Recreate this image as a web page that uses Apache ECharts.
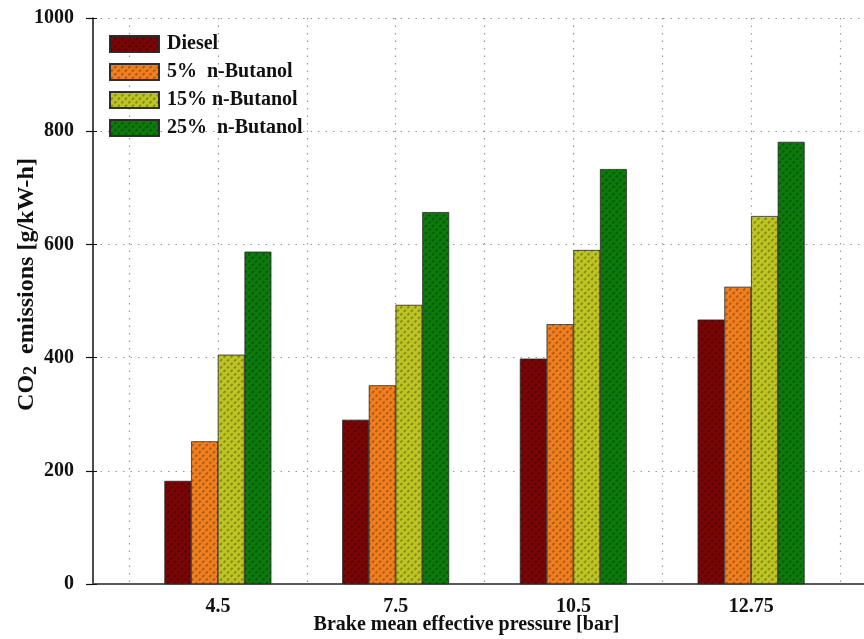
<!DOCTYPE html>
<html>
<head>
<meta charset="utf-8">
<script src="https://cdn.jsdelivr.net/npm/echarts@6/dist/echarts.min.js"></script>
<style>html,body{margin:0;padding:0;background:#fff}#c{width:864px;height:639px}</style>
</head>
<body>
<div id="c"></div>
<script>
var categories = ['4.5', '7.5', '10.5', '12.75'];
var seriesNames = ['Diesel', '5%  n-Butanol', '15% n-Butanol', '25%  n-Butanol'];
var diesel = [182, 290, 398, 467];
var butanol5 = [252, 351, 459, 525];
var butanol15 = [405, 493, 590, 650];
var butanol25 = [587, 657, 733, 781];
var yTicks = [0, 200, 400, 600, 800, 1000];

var colors = ['#7b0505', '#f27f1e', '#bec522', '#0c7b0c'];
var values = [diesel, butanol5, butanol15, butanol25];
var font = 'Liberation Serif';

var chart = echarts.init(document.getElementById('c'));
var series = values.map(function (v, i) {
  return {
    name: seriesNames[i],
    type: 'bar',
    xAxisIndex: 0,
    yAxisIndex: 2,
    data: v,
    barWidth: 26.7,
    barGap: '0%',
    itemStyle: {
      color: colors[i],
      borderColor: 'rgba(40,40,40,0.8)',
      borderWidth: 0.6,
      decal: {
        symbol: 'rect',
        symbolSize: 1,
        dashArrayX: [[3, 2]],
        dashArrayY: [1.5, 2.5],
        rotation: -Math.PI / 4,
        color: 'rgba(0,0,0,0.28)'
      }
    }
  };
});

chart.setOption({
  animation: false,
  backgroundColor: '#fff',
  legend: {
    orient: 'vertical',
    left: 104,
    top: 29,
    icon: 'rect',
    itemWidth: 49,
    itemHeight: 16,
    itemGap: 8,
    data: seriesNames,
    textStyle: { fontFamily: font, fontWeight: 'bold', fontSize: 20, color: '#111', padding: [0, 0, 0, 3] }
  },
  grid: [
    { left: 93, right: 0, top: 18, bottom: 55, outerBoundsMode: 'none', containLabel: false },
    { left: 129, right: 24, top: 18, bottom: 55, outerBoundsMode: 'none', containLabel: false }
  ],
  xAxis: [
    {
      type: 'category', gridIndex: 1, data: categories,
      axisLine: { show: false }, axisTick: { show: false },
      axisLabel: { fontFamily: font, fontWeight: 'bold', fontSize: 20, color: '#111', margin: 13 },
      splitLine: { show: false }
    },
    {
      type: 'value', gridIndex: 1, min: 0, max: 8, interval: 1,
      axisLine: { show: false }, axisTick: { show: false }, axisLabel: { show: false },
      splitLine: { show: true, lineStyle: { type: [1.5, 6], color: '#999', width: 1.2 } }
    },
    {
      type: 'value', gridIndex: 0, position: 'bottom', min: 0, max: 1,
      axisLine: { show: true, lineStyle: { color: '#666', width: 2 } },
      axisTick: { show: false }, axisLabel: { show: false }, splitLine: { show: false },
      name: 'Brake mean effective pressure [bar]', nameLocation: 'middle', nameGap: 31,
      nameMoveOverlap: false,
      nameTextStyle: { fontFamily: font, fontWeight: 'bold', fontSize: 20, color: '#111', padding: [0, 24, 0, 0] }
    },
    {
      type: 'value', gridIndex: 0, position: 'top', min: 0, max: 1,
      axisLine: { show: true, lineStyle: { color: '#555', width: 1.5 } },
      axisTick: { show: false }, axisLabel: { show: false }, splitLine: { show: false }
    }
  ],
  yAxis: [
    {
      type: 'value', gridIndex: 0, min: 0, max: 1000, interval: 200,
      axisLine: { show: true, lineStyle: { color: '#111', width: 1.5 } },
      axisTick: { show: true, length: 7, lineStyle: { color: '#111', width: 1.2 } },
      axisLabel: {
        fontFamily: font, fontWeight: 'bold', fontSize: 20, color: '#111', margin: 19,
        formatter: function (v) { return yTicks.indexOf(v) >= 0 ? String(v) : ''; }
      },
      splitLine: { show: true, lineStyle: { type: [1.5, 6], color: '#999', width: 1.2 } },
      name: 'CO{sub|2}  emissions [g/kW-h]',
      nameLocation: 'middle', nameGap: 53, nameRotate: 90,
      nameMoveOverlap: false,
      nameTextStyle: {
        fontFamily: font, fontWeight: 'bold', fontSize: 24, color: '#111',
        padding: [0, 0, 0, 33],
        rich: { sub: { fontFamily: font, fontWeight: 'bold', fontSize: 18, color: '#111', verticalAlign: 'bottom', padding: [8, 0, 0, 0] } }
      }
    },
    {
      type: 'value', gridIndex: 0, min: 0, max: 1000, interval: 200, position: 'left',
      axisLine: { show: false },
      axisTick: { show: true, inside: true, length: 4, lineStyle: { color: '#111', width: 1 } },
      axisLabel: { show: false }, splitLine: { show: false }
    },
    {
      type: 'value', gridIndex: 1, min: 0, max: 1000, show: false
    }
  ],
  series: series
});
</script>
</body>
</html>
